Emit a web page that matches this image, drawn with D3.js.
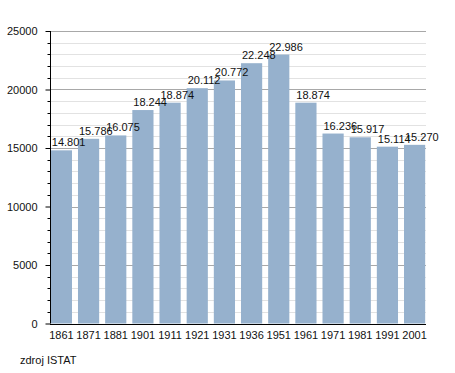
<!DOCTYPE html>
<html>
<head>
<meta charset="utf-8">
<script src="https://cdn.jsdelivr.net/npm/d3@7"></script>
<style>
  body { margin: 0; background: #fff; }
  text { font-family: "Liberation Sans", Arial, sans-serif; }
</style>
</head>
<body>
<div id="chart"></div>
<script>
// data
var years = ["1861", "1871", "1881", "1901", "1911", "1921", "1931", "1936", "1951", "1961", "1971", "1981", "1991", "2001"];
var population = [14801, 15786, 16075, 18244, 18874, 20112, 20772, 22248, 22986, 18874, 16236, 15917, 15114, 15270];
var yTicks = [0, 5000, 10000, 15000, 20000, 25000];
var sourceNote = "zdroj ISTAT";

var w = 455, h = 373;
var m = {top: 31, right: 29, bottom: 50, left: 50};

var svg = d3.select("#chart")
            .append("svg")
            .attr("width", w)
            .attr("height", h);

var xScale = d3.scaleBand()
               .domain(years)
               .range([m.left, w - m.right])
               .paddingInner(0.22)
               .paddingOuter(0.03);

var yScale = d3.scaleLinear()
               .domain([0, 25000])
               .range([h - m.bottom + 0.5, m.top]);

var minorVals = d3.range(1000, 25000, 1000).filter(function(v){ return v % 5000 !== 0; });

// minor grid
svg.append("g")
   .selectAll("line")
   .data(minorVals)
   .enter()
   .append("line")
   .attr("x1", m.left)
   .attr("x2", w - m.right)
   .attr("y1", (d) => Math.round(yScale(d)) + 0.5)
   .attr("y2", (d) => Math.round(yScale(d)) + 0.5)
   .style("stroke", "#e2e2e2");

// major grid
svg.append("g")
   .selectAll("line")
   .data(yTicks.slice(1))
   .enter()
   .append("line")
   .attr("x1", m.left)
   .attr("x2", w - m.right)
   .attr("y1", (d) => Math.round(yScale(d)) + 0.5)
   .attr("y2", (d) => Math.round(yScale(d)) + 0.5)
   .style("stroke", "#a8a8a8");

// bars
svg.append("g")
   .selectAll("rect")
   .data(population)
   .enter()
   .append("rect")
   .attr("x", (d, i) => xScale(years[i]))
   .attr("y", (d) => yScale(d))
   .attr("width", xScale.bandwidth())
   .attr("height", (d) => yScale(0) - yScale(d))
   .style("fill", "#96b1cd");

// value labels (start at the bar's left edge, like the original)
svg.append("g")
   .selectAll("text")
   .data(population)
   .enter()
   .append("text")
   .attr("x", (d, i) => xScale(years[i]) + 1)
   .attr("y", (d) => yScale(d) - 4)
   .attr("text-anchor", "start")
   .style("font-size", "11px")
   .style("fill", "#111")
   .text((d) => d3.format(".3f")(d / 1000));

// y axis
var yAxis = d3.axisLeft(yScale)
              .tickValues(yTicks)
              .tickSize(5)
              .tickPadding(8)
              .tickFormat(d3.format("d"));

var yG = svg.append("g")
   .attr("transform", "translate(" + (m.left + 0.5) + ",0)")
   .call(yAxis);
yG.selectAll("text").style("font-size", "11px").style("fill", "#111");
yG.select(".domain").attr("d", "M0," + m.top + "V" + (yScale(0)));

// y minor ticks
yG.append("g")
  .selectAll("line")
  .data(minorVals)
  .enter()
  .append("line")
  .attr("x1", -3)
  .attr("x2", 0)
  .attr("y1", (d) => Math.round(yScale(d)) + 0.5)
  .attr("y2", (d) => Math.round(yScale(d)) + 0.5)
  .style("stroke", "#000");

// x axis
var xAxis = d3.axisBottom(xScale)
              .tickSize(0)
              .tickPadding(7);

var xG = svg.append("g")
   .attr("transform", "translate(0," + (Math.round(yScale(0)) + 0.5) + ")")
   .call(xAxis);
xG.selectAll("text").style("font-size", "11px").style("fill", "#111");
xG.select(".domain").attr("d", "M" + m.left + ",0H" + (w - m.right));

// source
svg.append("text")
   .attr("x", 20)
   .attr("y", 364)
   .style("font-size", "11px")
   .style("fill", "#111")
   .text(sourceNote);
</script>
</body>
</html>
